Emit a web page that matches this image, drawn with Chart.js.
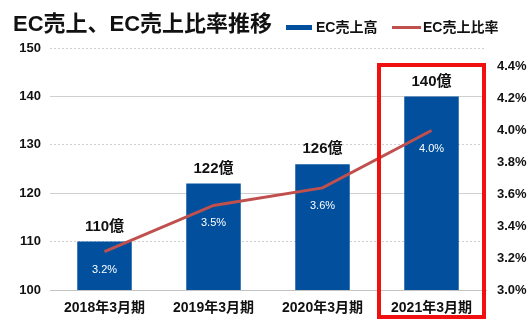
<!DOCTYPE html>
<html>
<head>
<meta charset="utf-8">
<script src="https://cdn.jsdelivr.net/npm/chart.js@4.4.0/dist/chart.umd.min.js"></script>
<style>
  html, body { margin: 0; padding: 0; background: #fff; }
</style>
</head>
<body>
<canvas id="ecChart" width="529" height="330"></canvas>
<script>
// data
const periods = ["2018年3月期", "2019年3月期", "2020年3月期", "2021年3月期"];
const ecSales = [110, 122, 126, 140];          // 億
const ecRatio = [3.24, 3.53, 3.64, 4.0];       // %
const salesTicks = [100, 110, 120, 130, 140, 150];
const ratioTicks = [3.0, 3.2, 3.4, 3.6, 3.8, 4.0, 4.2, 4.4];

const BLUE = "#02509d";
const RED = "#c0504d";
const FONT = '"Liberation Sans", "Noto Sans CJK JP", sans-serif';

const overlay = {
  id: "overlay",
  afterDatasetsDraw(chart) {
    const c = chart.ctx;
    c.save();

    // title
    c.fillStyle = "#111";
    c.textAlign = "left";
    c.textBaseline = "middle";
    c.font = "bold 22px " + FONT;
    c.fillText("EC売上、EC売上比率推移", 13, 25);

    // legend
    c.font = "bold 14px " + FONT;
    c.fillStyle = BLUE;
    c.fillRect(286, 25, 26, 5);
    c.fillStyle = "#111";
    c.fillText(chart.data.datasets[0].label, 316, 28);
    c.fillStyle = RED;
    c.fillRect(392, 26, 29, 3);
    c.fillStyle = "#111";
    c.fillText(chart.data.datasets[1].label, 423, 28);

    // values above bars
    const bars = chart.getDatasetMeta(0).data;
    c.textAlign = "center";
    c.font = "bold 15px " + FONT;
    bars.forEach((el, i) => {
      c.fillText(ecSales[i] + "億", el.x, el.y - 15);
    });

    // ratio labels under the line points
    const pts = chart.getDatasetMeta(1).data;
    c.fillStyle = "#fff";
    c.font = "11px " + FONT;
    pts.forEach((el, i) => {
      c.fillText(ecRatio[i].toFixed(1) + "%", el.x, el.y + 18);
    });

    // red highlight box around the last period
    const cx = chart.scales.x.getPixelForValue(periods.length - 1);
    c.strokeStyle = "#f01010";
    c.lineWidth = 4;
    c.strokeRect(cx - 52.5, 65, 105, 252);

    c.restore();
  }
};

new Chart(document.getElementById("ecChart"), {
  data: {
    labels: periods,
    datasets: [
      {
        type: "bar",
        label: "EC売上高",
        data: ecSales,
        backgroundColor: BLUE,
        yAxisID: "y",
        barPercentage: 0.5,
        categoryPercentage: 1.0,
        order: 1
      },
      {
        type: "line",
        label: "EC売上比率",
        data: ecRatio,
        borderColor: RED,
        borderWidth: 3,
        pointRadius: 0,
        tension: 0,
        yAxisID: "y1",
        order: 0
      }
    ]
  },
  options: {
    responsive: false,
    animation: false,
    layout: { padding: { top: 48, left: 0, right: 0, bottom: 0 } },
    plugins: {
      legend: { display: false },
      tooltip: { enabled: false }
    },
    scales: {
      x: {
        grid: { display: false },
        border: { color: "#c4c4c4", width: 1 },
        ticks: { color: "#111", font: { family: FONT, size: 14, weight: "bold" }, padding: 2 },
        afterFit(scale) { scale.height = 40; }
      },
      y: {
        position: "left",
        min: 100,
        max: 150,
        afterBuildTicks(scale) { scale.ticks = salesTicks.map(v => ({ value: v })); },
        grid: { color: "#cfcfcf", drawTicks: false },
        border: {
          display: false,
          dash: ctx => (ctx.tick && (ctx.tick.value / 10) % 2 === 1) ? [2, 2] : []
        },
        ticks: { color: "#111", font: { family: FONT, size: 13, weight: "bold" }, padding: 9 },
        afterFit(scale) { scale.width = 50; }
      },
      y1: {
        position: "right",
        min: 3.0,
        max: 4.517,
        afterBuildTicks(scale) { scale.ticks = ratioTicks.map(v => ({ value: v })); },
        grid: { display: false, drawTicks: false },
        border: { display: false },
        ticks: {
          color: "#111",
          font: { family: FONT, size: 13, weight: "bold" },
          padding: 11,
          callback: v => v.toFixed(1) + "%"
        },
        afterFit(scale) { scale.width = 43; }
      }
    }
  },
  plugins: [overlay]
});
</script>
</body>
</html>
